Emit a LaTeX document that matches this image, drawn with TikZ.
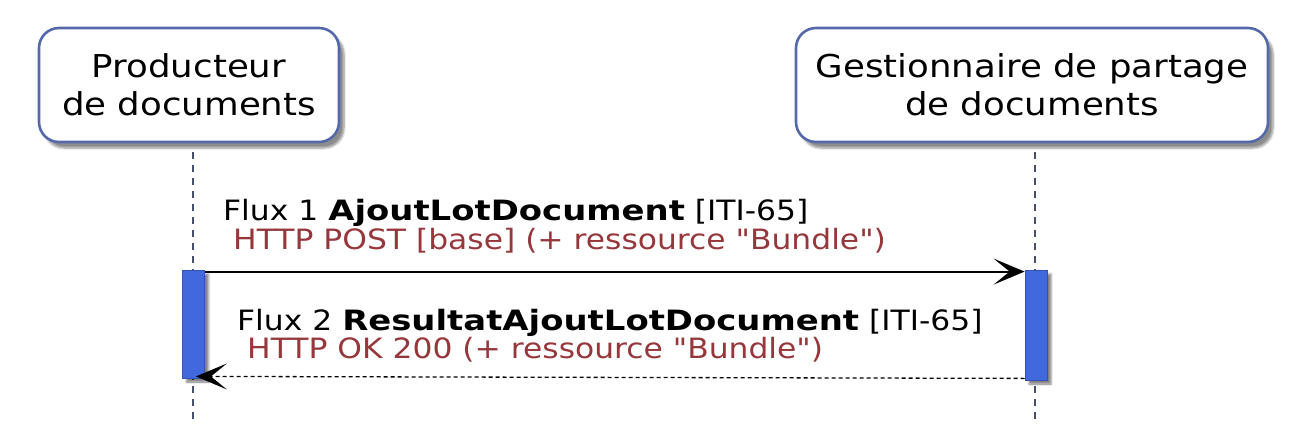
\documentclass[tikz,border=0pt]{standalone}
\usepackage{fontspec}
\setmainfont{DejaVu Sans}
\newfontfamily\partfont[FakeStretch=1.13]{DejaVu Sans}
\newfontfamily\msgrm[FakeStretch=1.12]{DejaVu Sans}
\newfontfamily\msgbfam[FakeStretch=1.21]{DejaVu Sans}
\newcommand{\mbold}[1]{{\msgbfam\bfseries #1}}
\usetikzlibrary{arrows.meta,shadows.blur}
\definecolor{boxborder}{RGB}{84,104,170}
\definecolor{actfill}{RGB}{66,104,222}
\definecolor{msgred}{RGB}{150,55,60}
\definecolor{lifecol}{RGB}{70,80,110}
\tikzset{
  participant/.style={draw=boxborder, line width=2.6pt, fill=white, rounded corners=20pt,
    align=center, font=\partfont\fontsize{31.5}{38}\selectfont, inner sep=0pt,
    blur shadow={shadow xshift=5pt, shadow yshift=-6pt, shadow blur steps=6, shadow opacity=45}},
  lifeline/.style={draw=lifecol, line width=1.2pt, dash pattern=on 7pt off 6pt},
  actbar/.style={draw=actfill!80!black, line width=0.8pt, fill=actfill, inner sep=0pt, minimum width=22pt,
    blur shadow={shadow xshift=4pt, shadow yshift=-4pt, shadow blur steps=3, shadow opacity=50}},
  msgtxt/.style={anchor=base west, inner sep=0pt, font=\msgrm\fontsize{28}{29}\selectfont},
  tip/.style={-{Stealth[length=31pt,width=26pt,inset=16pt,line width=0pt]}},
  reqarrow/.style={draw=black, line width=2pt, tip},
  resparrow/.style={draw=black, line width=1.3pt, dash pattern=on 4pt off 3pt, tip}
}
\begin{document}
\begin{tikzpicture}[x=1pt,y=-1pt]
\useasboundingbox (0,0) rectangle (1308,444);
% participants
\node[participant, minimum width=300pt, minimum height=114pt] (prod) at (189,85) {Producteur\\de documents};
\node[participant, minimum width=472pt, minimum height=114pt] (gest) at (1032,85) {Gestionnaire de partage\\de documents};
% lifelines
\coordinate (l1top) at (193,152);
\coordinate (l1bot) at (193,420);
\coordinate (l2top) at (1035,152);
\coordinate (l2bot) at (1035,420);
\draw[lifeline] (l1top) -- (l1bot);
\draw[lifeline] (l2top) -- (l2bot);
% activation bars
\node[actbar, minimum height=108pt] (act1) at (193.5,324) {};
\node[actbar, minimum height=110pt] (act2) at (1036,325) {};
% messages
\node[msgtxt] (m1a) at (223,220) {Flux 1 \mbold{AjoutLotDocument} [ITI-65]};
\node[msgtxt, text=msgred] (m1b) at (233,249) {HTTP POST [base] (+ ressource "Bundle")};
\node[msgtxt] (m2a) at (237,330) {Flux 2 \mbold{ResultatAjoutLotDocument} [ITI-65]};
\node[msgtxt, text=msgred] (m2b) at (247,358) {HTTP OK 200 (+ ressource "Bundle")};
\coordinate (r1s) at (act1.north east);
\coordinate (r1e) at (act2.north west);
\draw[reqarrow] ([yshift=-2pt]r1s) -- ([yshift=-2pt]r1e);
\coordinate (r2s) at ([yshift=2pt]act2.south west);
\coordinate (r2e) at ([xshift=-9pt,yshift=2pt]act1.south east);
\draw[resparrow] (r2s) -- (r2e);
\end{tikzpicture}
\end{document}
